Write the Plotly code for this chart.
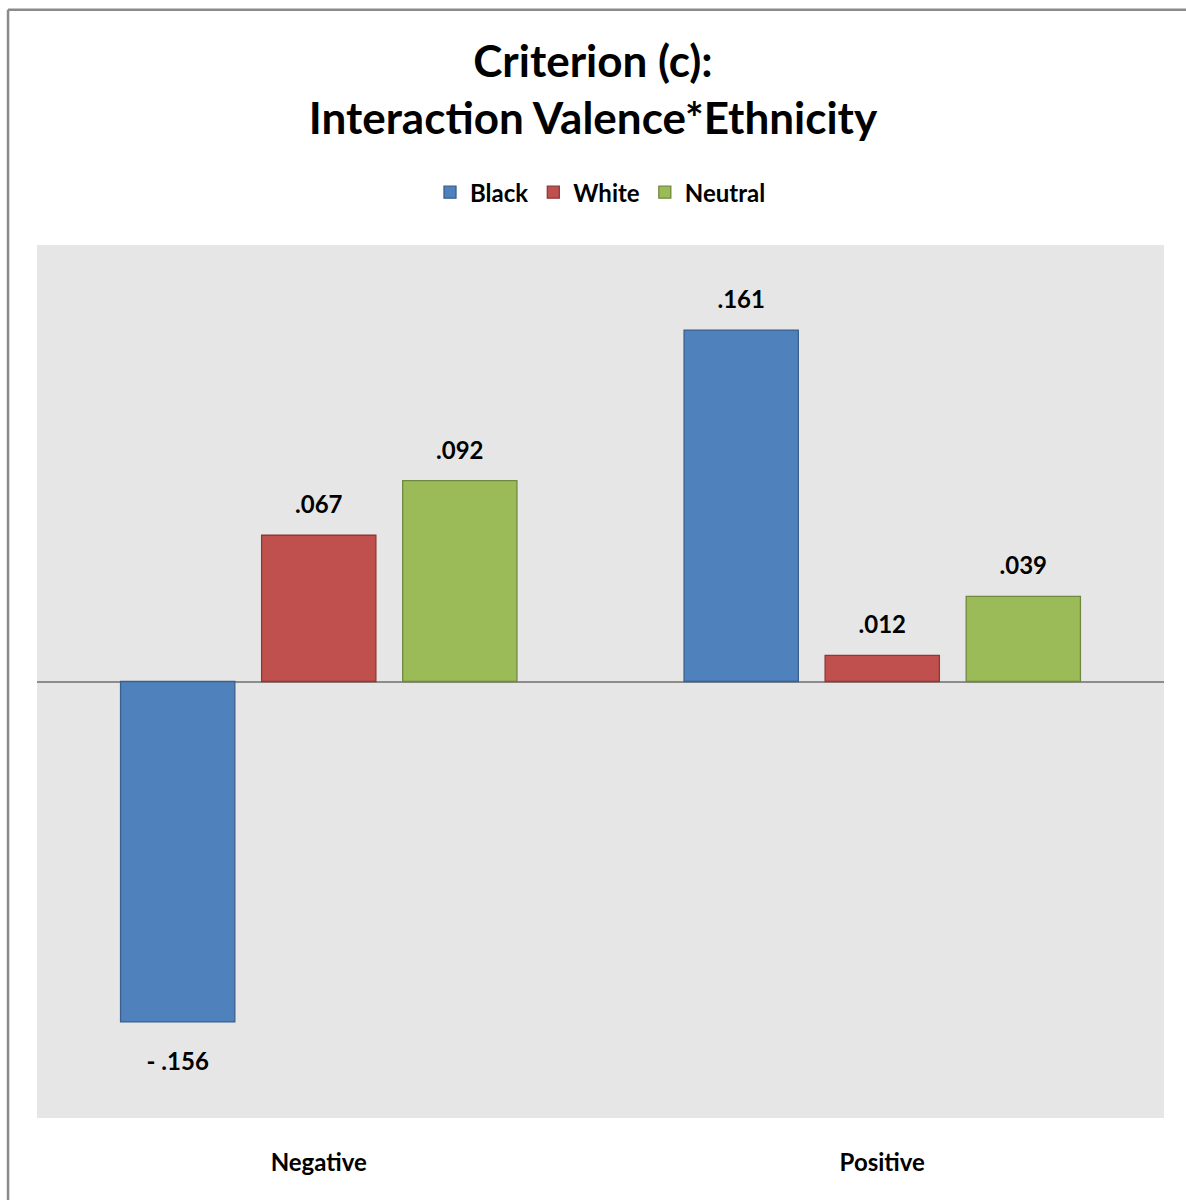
import plotly.graph_objects as go

categories = ["Negative", "Positive"]
series_names = ["Black", "White", "Neutral"]
black_vals = [-0.156, 0.161]
white_vals = [0.067, 0.012]
neutral_vals = [0.092, 0.039]
black_labels = ["- .156", ".161"]
white_labels = [".067", ".012"]
neutral_labels = [".092", ".039"]

fills = ["#4F81BD", "#C0504D", "#9BBB59"]
edges = ["#3A5F8C", "#8C3836", "#71893F"]
FONT = "Lato, Open Sans, sans-serif"

fig = go.Figure()
all_vals = [black_vals, white_vals, neutral_vals]
all_labels = [black_labels, white_labels, neutral_labels]
for name, vals, fc, ec in zip(series_names, all_vals, fills, edges):
    fig.add_trace(go.Bar(name="<b>" + name + "</b>", x=categories, y=vals,
                         marker=dict(color=fc, line=dict(color=ec, width=1.3)),
                         offsetgroup=name, hoverinfo="skip"))
for name, vals, labs in zip(series_names, all_vals, all_labels):
    fig.add_trace(go.Scatter(x=categories, y=vals, text=["<b>" + t + "</b>" for t in labs],
                             mode="markers+text",
                             marker=dict(size=[46 if v < 0 else 24 for v in vals], opacity=0),
                             textposition=["bottom center" if v < 0 else "top center" for v in vals],
                             textfont=dict(family=FONT, size=24, color="black"),
                             showlegend=False, hoverinfo="skip", cliponaxis=False,
                             offsetgroup=name))

fig.update_layout(
    width=1186, height=1200,
    margin=dict(l=37, r=22, t=245, b=82),
    paper_bgcolor="white", plot_bgcolor="#E6E6E6",
    barmode="group", bargap=0.249, bargroupgap=0.19,
    scattermode="group", scattergap=0.249,
    title=dict(text="<b>Criterion (c):<br>Interaction Valence*Ethnicity</b>",
               x=0.5, xanchor="center", y=0.936, yanchor="middle",
               font=dict(family=FONT, size=44, color="black")),
    legend=dict(orientation="h", x=0.5, xanchor="center", y=1.06, yanchor="middle",
                font=dict(family=FONT, size=24, color="black"),
                itemwidth=30, traceorder="normal"),
    showlegend=True,
    xaxis=dict(showgrid=False, showline=False, ticks="", ticklabelstandoff=28,
               tickvals=categories, ticktext=["<b>" + c + "</b>" for c in categories],
               tickfont=dict(family=FONT, size=24, color="black")),
    yaxis=dict(range=[-0.2, 0.2], showgrid=False, showticklabels=False, ticks="",
               zeroline=True, zerolinecolor="#8C8C8C", zerolinewidth=1.5),
    shapes=[
        dict(type="line", xref="paper", yref="paper", x0=-0.0257, x1=-0.0257, y0=-0.1, y1=1.2696,
             line=dict(color="#8A8A8A", width=2.5)),
        dict(type="line", xref="paper", yref="paper", x0=-0.0257, x1=1.03, y0=1.2696, y1=1.2696,
             line=dict(color="#8A8A8A", width=2.5)),
    ],
)
fig.write_html("out.html")
